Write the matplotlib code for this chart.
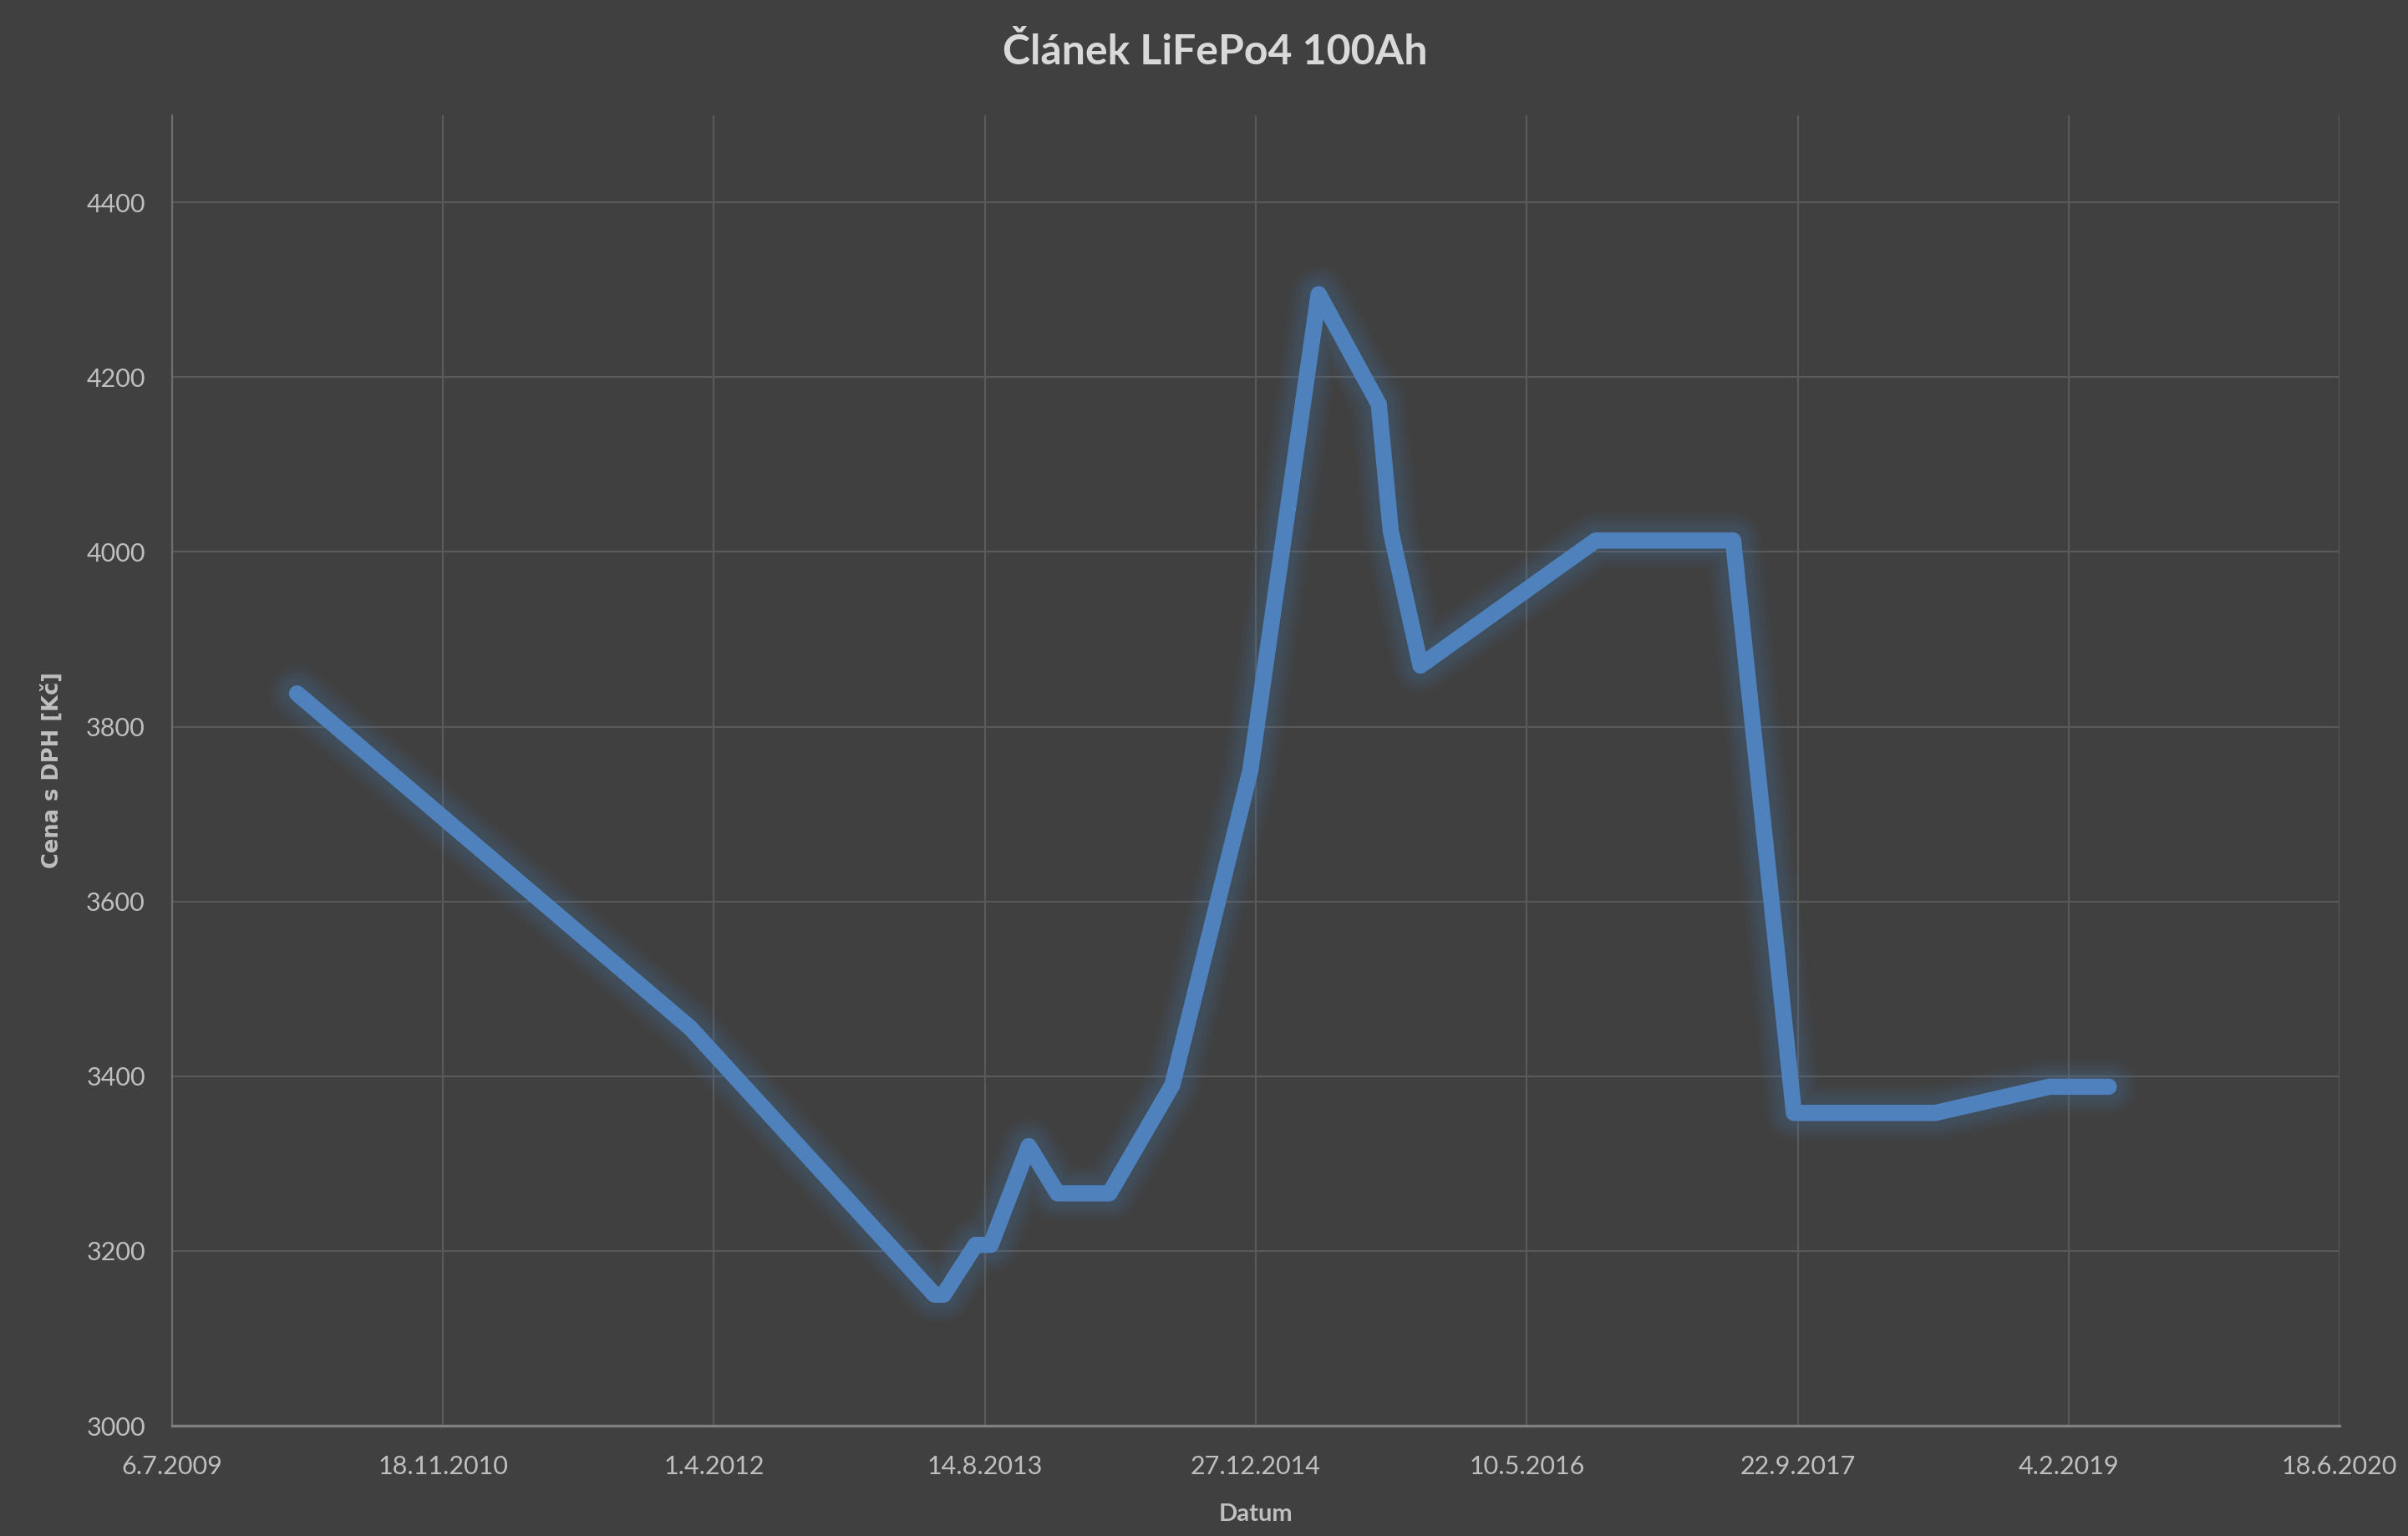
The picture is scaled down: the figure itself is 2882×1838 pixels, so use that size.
import matplotlib
matplotlib.use("Agg")
import matplotlib.pyplot as plt
import matplotlib.patheffects as pe
import pandas as pd

# ---- data ----
dates = ["2010-02-22", "2012-02-18", "2013-05-13", "2013-05-30", "2013-07-28",
         "2013-08-25", "2013-11-03", "2013-12-26", "2014-04-01", "2014-07-26",
         "2014-12-17", "2015-04-22", "2015-08-11", "2015-09-02", "2015-10-27",
         "2016-09-14", "2017-05-26", "2017-09-15", "2018-06-03", "2018-12-31",
         "2019-04-19"]
prices = [3838, 3455, 3150, 3150, 3207, 3207, 3320, 3266, 3266, 3390,
          3750, 4295, 4169, 4024, 3870, 4013, 4013, 3358, 3358, 3388, 3388]

tick_dates = ["2009-07-06", "2010-11-18", "2012-04-01", "2013-08-14", "2014-12-27",
              "2016-05-10", "2017-09-22", "2019-02-04", "2020-06-18"]
tick_labels = ["6.7.2009", "18.11.2010", "1.4.2012", "14.8.2013", "27.12.2014",
               "10.5.2016", "22.9.2017", "4.2.2019", "18.6.2020"]
y_ticks = [3000, 3200, 3400, 3600, 3800, 4000, 4200, 4400]
y_limits = (3000, 4500)

title = "Článek LiFePo4 100Ah"
x_label = "Datum"
y_label = "Cena s DPH [Kč]"

# ---- style ----
BG = "#404040"
GRID = "#595959"
TXT = "#bfbfbf"
LINE = "#4f81bd"

fig = plt.figure(figsize=(28.82, 18.38), dpi=100, facecolor=BG)
ax = fig.add_axes([0.0714, 0.0718, 0.9002, 0.8533], facecolor=BG)

x = pd.to_datetime(dates)
xt = pd.to_datetime(tick_dates)

glow = [pe.Stroke(linewidth=14 + w, foreground=LINE, alpha=0.055) for w in (34, 27, 20, 14, 8)]
ax.plot(x, prices, color=LINE, linewidth=14, solid_capstyle="round",
        solid_joinstyle="round", path_effects=glow + [pe.Normal()], zorder=3)

ax.set_xlim(xt[0], xt[-1])
ax.set_ylim(*y_limits)
ax.set_xticks(xt)
ax.set_xticklabels(tick_labels)
ax.set_yticks(y_ticks)

ax.grid(True, color=GRID, linewidth=1.6, zorder=0)
ax.set_axisbelow(True)

for side in ("top", "right"):
    ax.spines[side].set_visible(False)
ax.spines["left"].set_color("#6e6e6e")
ax.spines["left"].set_linewidth(1.6)
ax.spines["bottom"].set_color("#808080")
ax.spines["bottom"].set_linewidth(2.4)

ax.tick_params(axis="both", length=0, colors=TXT, labelsize=22)
ax.tick_params(axis="y", pad=23)
ax.tick_params(axis="x", pad=25)
for lab in ax.get_xticklabels() + ax.get_yticklabels():
    lab.set_family("Lato")

ax.set_xlabel(x_label, color=TXT, fontsize=21, fontweight="bold", family="Lato", labelpad=22)
ax.set_ylabel(y_label, color=TXT, fontsize=18.5, fontweight="bold", family="DejaVu Sans", labelpad=20)

fig.text(0.5045, 0.966, title, ha="center", va="center", color="#d9d9d9",
         fontsize=36, fontweight="bold", family="Lato")

fig.savefig("out.png", dpi=100, facecolor=BG)
